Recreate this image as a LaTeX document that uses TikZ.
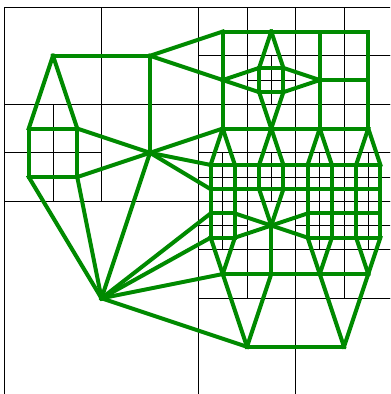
\documentclass[tikz,border=0pt]{standalone}
\definecolor{meshgreen}{RGB}{0,138,0}
\begin{document}
\begin{tikzpicture}[x=48.5pt,y=-48.5pt,
  cellline/.style={draw=black,line width=0.9pt},
  meshedge/.style={draw=meshgreen,line width=4pt,line cap=rect,line join=miter}]
\useasboundingbox (-0.0928,-0.1505) rectangle (7.9485,7.9732);
\clip (-0.0928,-0.1505) rectangle (7.9485,7.9732);
% quadtree cells
\draw[cellline] (0,4) rectangle ++(4,4);
\foreach \x/\y in {0/0,2/0,2/2,4/6,6/6} \draw[cellline] (\x,\y) rectangle ++(2,2);
\foreach \x/\y in {0/2,1/2,0/3,1/3,4/0,5/0,6/0,7/0,4/1,6/1,7/1,4/2,5/2,6/2,7/2,5/4,4/5,5/5,6/5,7/5}
  \draw[cellline] (\x,\y) rectangle ++(1,1);
\foreach \x/\y in {5/1,4/3,5/3,6/3,7/3,4/4,6/4,7/4}
  \draw[cellline] (\x,\y) rectangle ++(1,1) (\x+0.5,\y) -- ++(0,1) (\x,\y+0.5) -- ++(1,0);
% cell centres
\coordinate (A) at (1,1); \coordinate (B) at (3,1); \coordinate (C) at (3,3);
\coordinate (L) at (2,6); \coordinate (D) at (5,7); \coordinate (E) at (7,7);
\coordinate (a1) at (0.5,2.5); \coordinate (a2) at (1.5,2.5);
\coordinate (a3) at (0.5,3.5); \coordinate (a4) at (1.5,3.5);
\coordinate (t1) at (4.5,0.5); \coordinate (t2) at (5.5,0.5);
\coordinate (t3) at (6.5,0.5); \coordinate (t4) at (7.5,0.5);
\coordinate (u1) at (4.5,1.5); \coordinate (u3) at (6.5,1.5); \coordinate (u4) at (7.5,1.5);
\coordinate (s1) at (5.25,1.25); \coordinate (s2) at (5.75,1.25);
\coordinate (s3) at (5.25,1.75); \coordinate (s4) at (5.75,1.75);
\coordinate (v1) at (4.5,2.5); \coordinate (v2) at (5.5,2.5);
\coordinate (v3) at (6.5,2.5); \coordinate (v4) at (7.5,2.5);
\foreach \i in {1,...,8} {
  \coordinate (p\i) at ({3.75+0.5*\i},3.25);
  \coordinate (q\i) at ({3.75+0.5*\i},3.75);
}
\foreach \i in {1,2,5,6,7,8} {
  \coordinate (m\i) at ({3.75+0.5*\i},4.25);
  \coordinate (n\i) at ({3.75+0.5*\i},4.75);
}
\coordinate (w) at (5.5,4.5);
\coordinate (x1) at (4.5,5.5); \coordinate (x2) at (5.5,5.5);
\coordinate (x3) at (6.5,5.5); \coordinate (x4) at (7.5,5.5);
% dual mesh edges
\foreach \a/\b in {A/B,A/a1,A/a2,B/t1,B/u1,B/C,
  C/a2,C/a4,C/v1,C/p1,C/q1,C/L,
  a1/a2,a1/a3,a2/a4,a3/a4,a3/L,a4/L,
  L/m1,L/n1,L/x1,L/D,
  t1/t2,t2/t3,t3/t4,t1/u1,t2/s1,t2/s2,t3/u3,t4/u4,
  u1/s1,u1/s3,u1/v1,
  s1/s2,s1/s3,s2/s4,s3/s4,s2/u3,s4/u3,s3/v2,s4/v2,
  u3/u4,u3/v3,u4/v4,
  v1/v2,v2/v3,v3/v4,v1/p1,v1/p2,v2/p3,v2/p4,v3/p5,v3/p6,v4/p7,v4/p8,
  p1/p2,p2/p3,p3/p4,p4/p5,p5/p6,p6/p7,p7/p8,
  q1/q2,q2/q3,q3/q4,q4/q5,q5/q6,q6/q7,q7/q8,
  p1/q1,p2/q2,p3/q3,p4/q4,p5/q5,p6/q6,p7/q7,p8/q8,
  q1/m1,q2/m2,q3/w,q4/w,q5/m5,q6/m6,q7/m7,q8/m8,
  m1/m2,m2/w,w/m5,m5/m6,m6/m7,m7/m8,
  n1/n2,n2/w,w/n5,n5/n6,n6/n7,n7/n8,
  m1/n1,m2/n2,m5/n5,m6/n6,m7/n7,m8/n8,
  n1/x1,n2/x1,w/x2,n5/x3,n6/x3,n7/x4,n8/x4,
  x1/x2,x2/x3,x3/x4,x1/D,x2/D,x3/E,x4/E,D/E}
  \draw[meshedge] (\a) -- (\b);
\end{tikzpicture}
\end{document}
